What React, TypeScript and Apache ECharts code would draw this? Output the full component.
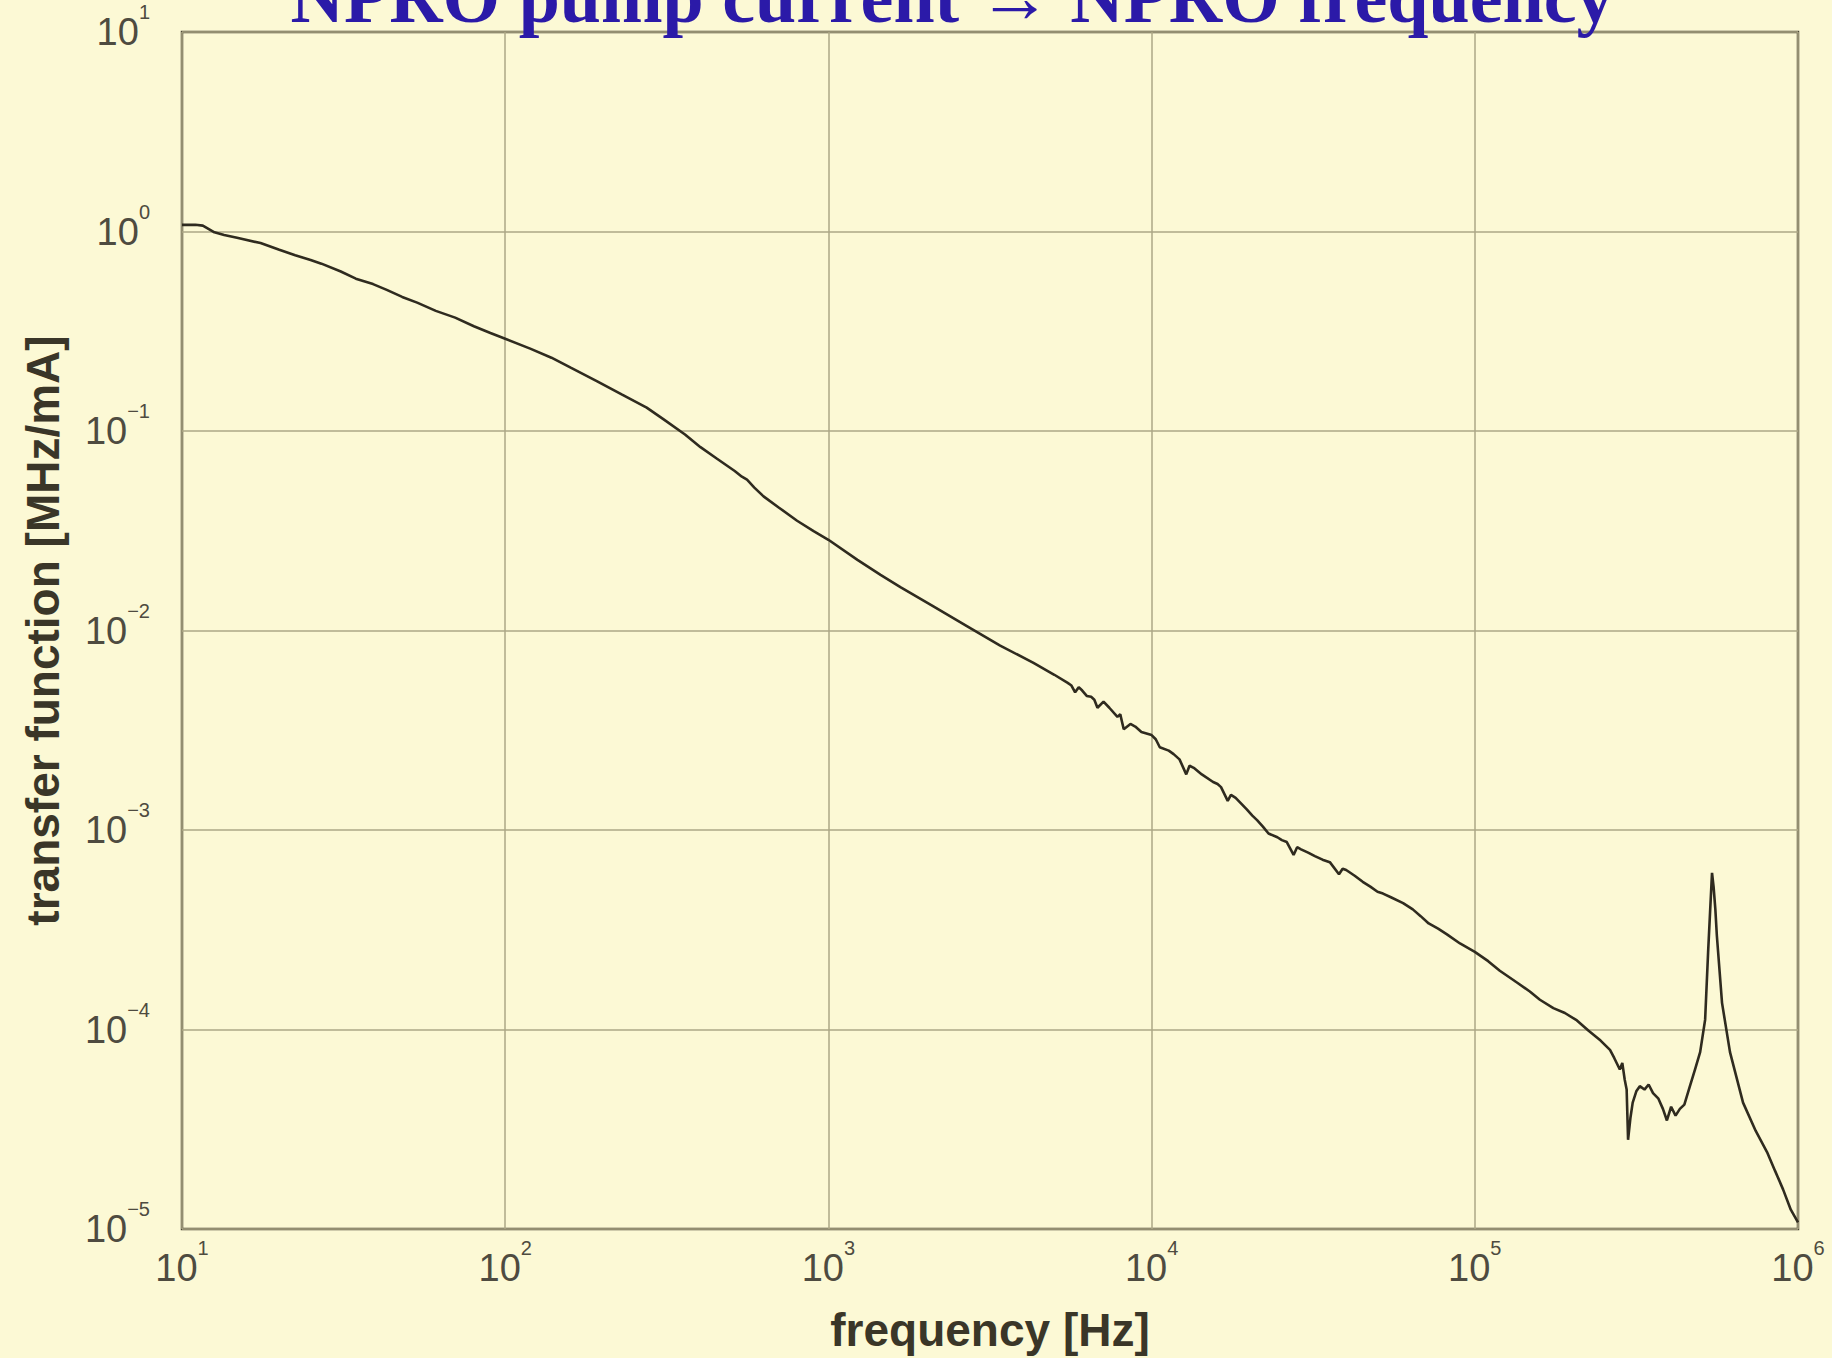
import React, { useEffect, useRef } from "react";
import * as echarts from "echarts";

const TITLE = "NPRO pump current \u2192 NPRO frequency";
const X_NAME = "frequency [Hz]";
const Y_NAME = "transfer function [MHz/mA]";

const X_MIN = 10;
const X_MAX = 1e6;
const Y_MIN = 1e-5;
const Y_MAX = 10;

const freqLow = [10, 11, 11.6, 12.6, 13.5, 14.8, 17.5, 20, 22.4, 25, 27, 31, 34.5, 39, 43, 48, 53.4, 61, 70, 80, 90, 100];
const valLow = [1.08, 1.08, 1.07, 0.99, 0.96, 0.93, 0.875, 0.81, 0.76, 0.72, 0.69, 0.63, 0.58, 0.545, 0.51, 0.47, 0.44, 0.4, 0.37, 0.335, 0.31, 0.29];

const freqMid = [120, 139, 160, 192, 230, 274, 310, 360, 402, 450, 513, 540, 560, 590, 630, 700, 800, 900, 1000, 1230, 1450, 1670, 2100, 2690, 3400, 4310, 5000, 5500];
const valMid = [0.258, 0.233, 0.207, 0.178, 0.152, 0.131, 0.114, 0.096, 0.083, 0.073, 0.063, 0.059, 0.057, 0.052, 0.047, 0.0415, 0.0355, 0.0315, 0.0285, 0.0226, 0.019, 0.0165, 0.0133, 0.0105, 0.0084, 0.00688, 0.006, 0.00546];

const freqNoisy = [5650, 5800, 5950, 6100, 6300, 6500, 6650, 6800, 7100, 7400, 7840, 8000, 8200, 8600, 8900, 9300, 10000, 10300, 10600, 11300, 11700, 12200, 12800, 13100, 13500, 14300, 15500, 16000, 16400, 17200, 17600, 18200, 19700, 20500, 21200, 22100, 23000, 24500, 25300, 26200, 27500, 28200, 29000, 30500, 32000, 33800, 35600, 38000, 39000, 40000, 42500, 45000, 47500, 50000, 52000, 55000, 60000, 64300, 68000, 72000, 77000, 82000, 90000, 100000, 110000, 119500, 135000, 148000, 159000, 175000, 190000, 207000, 225000, 245000, 262000];
const valNoisy = [0.0053, 0.0049, 0.0052, 0.005, 0.0047, 0.00465, 0.0045, 0.0041, 0.0044, 0.0041, 0.00369, 0.0038, 0.0032, 0.0034, 0.0033, 0.0031, 0.00299, 0.00285, 0.0026, 0.0025, 0.0024, 0.00226, 0.0019, 0.0021, 0.00205, 0.0019, 0.00174, 0.0017, 0.00164, 0.0014, 0.0015, 0.00145, 0.00127, 0.00118, 0.00112, 0.00104, 0.00096, 0.00092, 0.00089, 0.00087, 0.00075, 0.00082, 0.0008, 0.00077, 0.00074, 0.00071, 0.00069, 0.0006, 0.00064, 0.00063, 0.00059, 0.00055, 0.00052, 0.00049, 0.00048, 0.00046, 0.00043, 0.0004, 0.00037, 0.00034, 0.00032, 0.0003, 0.00027, 0.000245, 0.00022, 0.000197, 0.000172, 0.000155, 0.000141, 0.000128, 0.000121, 0.000111, 0.0000985, 0.000088, 0.000079];

const freqHigh = [270000, 281000, 286000, 291000, 295000, 298000, 303000, 308000, 316000, 324000, 335000, 345000, 356000, 370000, 382000, 393000, 405000, 418000, 431000, 445000, 463000, 480000, 498000, 516000, 527000, 535000, 542000, 548000, 555000, 561000, 582000, 616000, 676000, 740000, 802000, 850000, 899000, 950000, 1000000];
const valHigh = [0.000072, 0.000063, 0.000068, 0.000056, 0.00005, 0.000028, 0.000036, 0.000043, 0.000049, 0.000052, 0.00005, 0.000053, 0.000048, 0.000045, 0.00004, 0.000035, 0.000041, 0.000037, 0.00004, 0.000042, 0.000052, 0.000063, 0.000077, 0.000112, 0.000243, 0.0004, 0.00061, 0.00052, 0.0004, 0.000295, 0.000136, 0.000077, 0.000043, 0.000031, 0.0000243, 0.0000195, 0.0000158, 0.0000125, 0.0000108];

const frequencies = [...freqLow, ...freqMid, ...freqNoisy, ...freqHigh];
const values = [...valLow, ...valMid, ...valNoisy, ...valHigh];

function expLabel(v: number): string {
  const e = Math.round(Math.log10(v));
  const s = e < 0 ? "\u2212" + String(-e) : String(e);
  return "{b|10}{e|" + s + "}";
}

const labelRich = {
  b: {
    fontFamily: "'Liberation Sans', Arial, sans-serif",
    fontSize: 38,
    lineHeight: 60,
    color: "#4e4b40",
  },
  e: {
    fontFamily: "'Liberation Sans', Arial, sans-serif",
    fontSize: 20,
    lineHeight: 22,
    verticalAlign: "top",
    color: "#4e4b40",
  },
};

export default function App() {
  const ref = useRef<HTMLDivElement>(null);

  useEffect(() => {
    if (!ref.current) return;
    const chart = echarts.init(ref.current, undefined, { renderer: "svg" });
    const data = frequencies.map((f, i) => [f, values[i]]);
    chart.setOption({
      animation: false,
      backgroundColor: "#fcf9d5",
      grid: {
        left: 182,
        right: 34,
        top: 32,
        bottom: 128,
        show: true,
        borderColor: "#4a4636",
        borderWidth: 2.5,
        backgroundColor: "transparent",
      },
      graphic: [
        {
          type: "text",
          x: 952,
          y: -3,
          z: 100,
          style: {
            text: TITLE,
            fill: "#2b1aa8",
            font: "bold 74px 'Liberation Serif', 'Times New Roman', serif",
            textAlign: "center",
            textVerticalAlign: "middle",
          },
        },
      ],
      xAxis: {
        type: "log",
        logBase: 10,
        min: X_MIN,
        max: X_MAX,
        interval: 1,
        name: X_NAME,
        nameLocation: "middle",
        nameGap: 78,
        nameTextStyle: {
          fontFamily: "'Liberation Sans', Arial, sans-serif",
          fontWeight: "bold",
          fontSize: 46,
          color: "#3a3628",
        },
        axisLine: { show: false },
        axisTick: { show: false },
        minorTick: { show: false },
        splitLine: { show: true, lineStyle: { color: "#ada786", width: 1.5 } },
        axisLabel: {
          margin: 9,
          formatter: (v: number) => expLabel(v),
          rich: labelRich,
        },
      },
      yAxis: {
        type: "log",
        logBase: 10,
        min: Y_MIN,
        max: Y_MAX,
        interval: 1,
        name: Y_NAME,
        nameLocation: "middle",
        nameGap: 116,
        nameRotate: 90,
        nameTextStyle: {
          fontFamily: "'Liberation Sans', Arial, sans-serif",
          fontWeight: "bold",
          fontSize: 46,
          color: "#3a3628",
        },
        axisLine: { show: false },
        axisTick: { show: false },
        minorTick: { show: false },
        splitLine: { show: true, lineStyle: { color: "#ada786", width: 1.5 } },
        axisLabel: {
          margin: 32,
          formatter: (v: number) => expLabel(v),
          rich: labelRich,
        },
      },
      series: [
        {
          type: "line",
          data,
          showSymbol: false,
          symbol: "none",
          smooth: false,
          clip: true,
          lineStyle: { color: "#2f2b1f", width: 2.6 },
        },
      ],
    });
    return () => chart.dispose();
  }, []);

  return (
    <div
      ref={ref}
      style={{ position: "fixed", left: 0, top: 0, width: 1832, height: 1358 }}
    />
  );
}
